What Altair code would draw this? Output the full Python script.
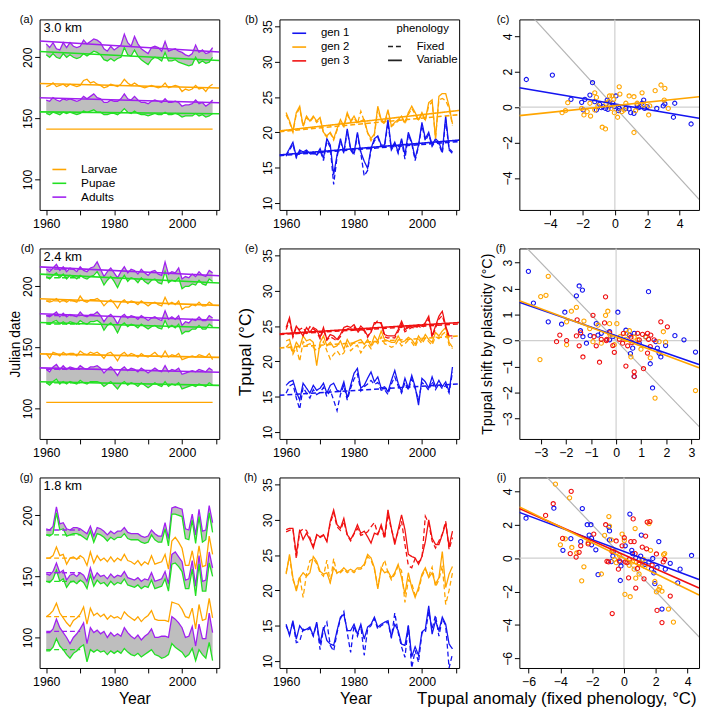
import altair as alt
import pandas as pd

FONT = "Liberation Sans"
YEARS = list(range(1960, 2010))
YR_DOMAIN = [1958.04, 2010.96]
JD_DOMAIN = [75, 231]
T_DOMAIN = [9, 36]

STAGE_DOMAIN = ["Larvae", "Pupae", "Adults"]
STAGE_RANGE = ["#FFA500", "#22E022", "#A020F0"]
STAGE_OF = {"L": "Larvae", "P": "Pupae", "A": "Adults"}
GEN_DOMAIN = ["gen 1", "gen 2", "gen 3"]
GEN_RANGE = ["#1414F0", "#FFA500", "#F01010"]

W, H = 182, 193

# ---------------- panel (a) 3.0 km : Julian dates ----------------
a_A2 = [211,208,212,207,206,212,208,212,209,208, 209,214,211,213,215,214,212,207,205,209,
        206,208,210,219,212,209,217,211,207,205, 203,208,209,208,205,213,205,206,207,205,
        204,202,201,203,210,204,206,203,204,208]
a_P2 = [202,200,203,200,199,203,200,202,200,199, 200,203,201,203,205,204,202,198,197,199,
        197,199,200,208,202,201,206,201,198,196, 194,198,200,199,197,204,197,197,198,196,
        195,194,193,194,200,195,197,195,196,200]
a_L2 = [176,177,179,176,177,178,176,178,177,176, 177,181,182,179,180,178,177,175,176,178,
        177,176,178,182,179,177,179,177,176,175, 176,177,176,175,176,179,175,176,177,176,
        172,174,173,174,177,174,175,172,176,178]
a_A1 = [165,164,167,165,164,166,165,166,165,164, 165,168,166,168,170,167,166,163,163,165,
        164,164,166,170,166,165,168,165,163,163, 162,164,165,164,163,166,163,163,164,163,
        160,161,161,162,165,162,163,160,162,165]
a_P1 = [154,153,155,154,153,155,154,155,154,153, 154,156,155,156,157,155,155,153,153,154,
        154,153,155,158,155,154,156,154,153,153, 152,153,154,153,153,155,153,153,154,153,
        151,152,152,152,154,152,153,151,152,154]
FLAT_YEARS = [1960, 2009]
a_L1 = [141.2, 141.2]
a_trend = {"A2": [213.4, 204.3], "P2": [204.8, 197.3], "L2": [178.6, 174.9],
           "A1": [166.8, 162.8], "P1": [155.3, 153.7]}

# ---------------- panel (d) 2.4 km ----------------
d_A3 = [214,212,215,218,213,216,212,215,214,212, 216,213,212,215,216,220,214,208,212,215,
        211,207,212,216,211,214,213,210,214,211, 209,212,213,210,209,220,210,212,211,215,
        206,208,207,210,208,212,209,208,213,211]
d_P3 = [208,206,209,211,207,210,206,209,208,206, 209,207,206,208,209,212,207,201,205,208,
        204,199,205,209,204,207,206,203,207,204, 202,205,206,203,202,212,203,205,204,207,
        198,200,200,202,201,205,202,201,206,204]
d_L3 = [188,187,188,190,187,189,187,189,188,187, 192,188,187,189,189,190,188,184,187,189,
        186,182,187,189,186,188,187,185,188,186, 184,186,187,185,184,191,185,187,185,188,
        181,183,183,185,184,187,184,184,187,185]
d_A2 = [176,175,177,179,175,178,175,177,176,175, 179,176,175,177,177,179,176,171,175,177,
        174,169,175,177,174,176,175,173,176,174, 172,174,175,173,172,180,173,175,173,176,
        168,171,170,173,172,175,172,172,176,174]
d_P2 = [170,169,171,172,169,171,169,171,170,169, 172,170,169,171,171,172,170,164,168,170,
        167,162,168,170,167,169,168,166,169,167, 165,167,168,166,165,172,166,168,166,169,
        161,163,163,165,165,168,165,165,169,167]
d_L2 = [145,141,146,145,143,146,144,145,145,143, 147,145,144,146,145,146,144,141,145,146,
        143,139,144,146,143,145,144,142,145,143, 142,144,146,143,142,147,142,144,143,145,
        140,141,142,143,142,144,143,142,145,140]
d_A1 = [132,130,134,136,132,135,132,134,133,132, 135,133,132,134,134,135,133,129,132,134,
        131,127,132,134,131,133,132,130,133,131, 129,131,133,131,130,135,130,132,131,133,
        128,129,130,131,130,132,131,130,133,131]
d_P1 = [121,119,122,124,120,122,120,122,121,120, 123,121,120,122,122,122,121,118,120,122,
        119,116,120,122,119,121,120,118,121,119, 117,119,121,119,118,122,118,120,119,121,
        116,117,118,119,118,120,119,118,121,119]
d_L1 = [105.0, 105.0]
d_trend = {"A3": [215.9, 208.6], "P3": [210.0, 202.7], "L3": [189.8, 184.4],
           "A2": [177.6, 172.2], "P2": [170.4, 166.0], "L2": [144.7, 141.8],
           "A1": [133.2, 129.6], "P1": [121.8, 118.9]}
FIXED_YEARS = [1960, 1970]
d_fixed = {"A3": 214, "P3": 207, "L3": 188, "A2": 176, "P2": 169, "L2": 144, "A1": 132, "P1": 121}

# ---------------- panel (g) 1.8 km ----------------
g_A3 = [189,188,191,207,193,194,189,188,190,190, 189,187,185,191,183,190,189,187,184,187,
        185,187,187,190,186,185,185,185,183,182, 183,188,185,183,183,194,181,206,207,206,
        205,189,188,201,184,205,187,188,208,194]
g_P3 = [184,183,185,202,188,189,183,184,185,185, 184,182,180,187,178,185,184,182,179,182,
        180,182,182,185,181,180,180,180,178,177, 178,184,180,178,178,189,175,201,201,200,
        199,181,180,196,177,199,178,180,202,186]
g_L3 = [165,165,167,174,167,168,160,165,166,164, 167,165,159,170,161,167,163,165,162,166,
        162,165,163,168,163,162,160,163,159,162, 160,167,160,161,162,168,156,179,182,178,
        173,159,159,171,156,175,158,159,183,168]
g_A2 = [152,151,154,161,153,155,147,151,152,150, 153,151,146,157,148,153,150,151,148,152,
        149,151,150,154,149,148,147,149,146,148, 147,153,146,147,148,154,144,168,170,166,
        162,147,148,163,142,167,146,147,170,157]
g_P2 = [146,145,148,155,146,148,141,145,146,144, 147,145,140,151,142,147,144,145,142,146,
        143,145,144,148,143,142,141,143,140,142, 141,147,140,141,142,148,138,160,161,158,
        154,140,140,156,134,160,138,138,161,150]
g_L2 = [117,119,122,128,120,116,112,109,114,116, 119,125,111,124,118,120,117,119,115,118,
        116,117,115,121,118,116,114,117,113,116, 118,122,115,114,114,114,113,129,128,127,
        123,117,116,124,107,127,114,115,132,116]
g_A1 = [104,104,107,115,108,104,100,95,100,103, 107,112,95,108,104,106,103,105,100,104,
        101,103,101,108,104,101,99,102,98,101, 103,107,100,100,101,101,100,117,115,112,
        108,100,101,109,93,111,99,99,120,104]
g_P1 = [89,89,92,99,93,90,86,83,87,89, 92,94,80,90,88,90,88,89,86,89,
        87,89,87,91,88,86,85,87,84,86, 88,90,86,85,83,84,86,95,92,90,
        88,84,86,91,81,90,86,83,96,81]
g_fixed = {"A3": 188, "P3": 184, "L3": 165, "A2": 153, "P2": 146, "L2": 117, "A1": 105, "P1": 90}

# ---------------- Tpupal series (b, e, h) ----------------
b_g1_var = [16.8,17.7,18.6,16.5,17.5,17.2,17.5,17.0,17.2,16.8, 17.7,16.3,19.1,18.2,14.0,16.8,19.1,17.2,20.5,17.7,
            17.0,20.0,17.2,15.9,14.9,17.7,19.1,19.5,18.2,18.2, 21.8,17.7,18.6,17.2,19.1,16.8,20.0,18.6,16.3,18.2,
            21.4,19.1,20.0,18.2,19.1,18.6,17.2,22.3,17.7,17.2]
b_g1_fix = [16.6,17.5,18.3,16.4,17.3,17.0,17.3,16.9,17.0,16.7, 17.5,16.0,18.8,17.9,12.6,16.5,18.8,17.0,20.2,17.5,
            16.8,19.7,17.0,13.8,14.6,17.5,18.8,19.3,18.0,18.0, 21.4,17.5,18.4,17.0,18.8,16.2,19.7,18.4,16.0,18.0,
            21.0,18.8,19.7,18.0,18.8,18.3,17.0,21.8,17.5,17.0]
b_g2_var = [22.8,21.6,20.2,22.8,23.7,20.9,22.3,21.6,22.3,21.6, 22.1,20.0,19.5,20.0,19.1,20.5,21.8,20.9,22.8,21.6,
            22.3,21.4,21.6,21.8,20.0,19.1,19.8,23.7,21.8,21.4, 23.2,20.9,21.4,21.8,22.3,21.4,22.8,23.7,22.8,21.8,
            22.8,21.8,24.2,24.6,19.1,25.1,25.5,25.5,23.7,21.2]
b_g2_fix = [22.5,21.4,20.0,22.6,23.4,20.8,22.1,21.5,22.1,21.4, 21.9,19.9,19.3,19.9,18.9,20.3,21.6,20.8,22.5,21.5,
            22.1,21.2,23.0,21.6,19.9,18.8,19.6,23.3,21.6,21.2, 22.9,20.8,21.2,21.6,22.1,21.2,22.5,23.4,22.6,21.6,
            22.6,21.6,23.8,24.3,19.2,24.6,24.8,24.5,23.4,21.0]
b_trend = {("gen 1", "Variable"): [16.8, 18.9], ("gen 1", "Fixed"): [16.7, 18.7],
           ("gen 2", "Variable"): [20.2, 23.1], ("gen 2", "Fixed"): [20.1, 22.5]}

e_g3_var = [24.8,26.2,23.6,25.0,24.3,23.6,24.8,24.1,24.8,24.5, 23.4,24.8,23.1,23.8,23.6,23.1,23.8,24.8,25.0,24.8,
            25.2,24.3,25.0,24.5,23.6,24.1,25.5,25.5,25.5,23.8, 23.6,23.6,23.6,24.5,25.7,24.5,24.8,25.0,25.0,25.2,
            25.0,25.5,26.4,23.6,25.0,26.4,27.1,25.0,23.6,23.6]
e_g3_fix = [24.5,25.8,23.4,24.8,24.5,24.8,24.0,24.9,24.6,24.2, 23.2,24.5,23.0,23.5,23.2,22.9,23.5,24.5,24.7,24.5,
            24.9,24.0,24.7,24.3,23.4,24.3,25.2,25.8,25.3,23.5, 23.3,23.4,23.3,24.2,25.3,24.2,24.5,24.8,24.7,25.0,
            24.7,25.2,26.0,23.4,24.7,26.0,26.5,24.8,23.3,23.3]
e_g2_var = [22.9,23.1,21.3,22.7,22.0,23.6,22.9,23.1,22.7,19.4, 22.7,23.6,22.2,22.7,22.0,22.2,22.9,21.7,23.1,22.2,
            22.7,22.9,23.1,22.4,23.1,22.2,23.6,22.9,24.3,23.1, 22.9,22.7,22.7,23.6,22.7,22.9,23.4,23.1,22.4,23.6,
            22.9,23.8,23.1,22.7,24.1,23.6,24.3,24.8,22.7,22.0]
e_g2_fix = [22.0,22.5,21.0,22.0,20.0,22.8,22.3,22.5,22.0,21.5, 22.0,22.8,21.5,20.3,21.0,21.5,20.8,21.2,22.3,21.5,
            22.0,22.3,21.2,22.0,22.5,21.8,23.0,22.5,23.5,22.5, 22.3,22.0,22.2,23.0,22.2,22.5,23.0,22.7,22.0,23.2,
            22.5,23.3,22.8,22.3,23.5,23.2,23.8,24.2,22.3,21.8]
e_g1_var = [16.6,17.1,17.3,15.7,14.5,16.9,16.2,15.5,16.6,15.9, 16.2,16.9,15.5,16.6,16.9,15.9,15.7,17.1,14.8,16.6,
            18.3,19.0,16.2,16.6,17.6,18.5,17.1,17.8,16.2,16.4, 15.7,17.3,18.7,16.9,15.7,17.6,16.2,18.0,16.4,13.8,
            17.6,17.1,16.2,17.8,16.4,17.3,16.4,17.1,15.7,19.2]
e_g1_fix = [15.5,16.5,16.8,14.8,13.2,16.3,15.5,14.8,16.0,15.3, 15.6,16.3,15.0,15.9,14.5,13.0,15.3,16.6,14.5,16.2,
            17.5,18.2,15.8,16.4,16.8,17.3,16.7,17.0,15.9,16.0, 15.3,16.8,17.8,16.5,15.5,17.0,15.9,17.5,16.2,14.5,
            17.0,16.6,15.9,17.2,16.0,16.8,16.1,16.6,15.5,18.5]
e_trend = {("gen 3", "Variable"): [23.9, 25.5], ("gen 3", "Fixed"): [23.8, 25.3],
           ("gen 2", "Fixed"): [21.9, 23.6], ("gen 1", "Fixed"): [15.2, 16.8]}

h_g3_var = [28.6,28.8,28.8,25.1,28.6,27.2,28.1,27.2,26.0,27.9, 27.6,27.9,26.9,29.8,31.4,29.3,28.8,30.2,27.9,27.2,
            28.1,29.3,28.1,28.4,27.6,26.7,28.1,27.9,29.3,27.6, 31.4,28.8,26.5,28.6,30.7,28.6,25.1,24.8,24.6,23.7,
            24.8,26.9,30.0,27.4,26.5,26.5,27.9,29.5,26.2,28.4]
h_g3_fix = [28.3,28.5,28.7,24.5,28.3,28.7,28.5,27.5,26.3,27.7, 27.5,27.8,27.0,29.5,31.0,29.0,28.5,29.8,27.8,27.0,
            28.0,28.8,27.8,28.0,28.3,29.0,29.6,28.0,29.0,27.3, 30.8,28.6,27.0,28.3,29.8,26.5,23.5,23.2,24.5,24.0,
            24.5,30.5,29.5,27.0,26.0,27.0,28.0,29.8,25.8,27.5]
h_g2_var = [22.3,25.1,21.8,19.9,21.8,22.5,22.0,22.5,24.8,24.1, 22.7,22.3,22.5,21.1,23.2,22.5,22.7,23.2,22.7,23.0,
            22.7,23.2,23.2,23.7,25.1,24.6,23.2,20.2,23.2,22.5, 22.7,21.8,22.5,23.7,21.8,19.5,22.5,20.4,19.0,20.4,
            22.3,23.2,21.8,22.5,20.9,21.8,25.5,20.4,22.3,23.4]
h_g2_fix = [22.5,24.8,21.5,20.3,22.0,19.0,22.3,24.2,24.5,23.8, 22.5,22.0,24.3,21.0,24.5,22.3,22.5,23.0,22.5,22.8,
            22.5,23.0,23.0,23.5,24.8,24.3,23.0,20.5,23.0,24.3, 22.5,21.5,22.3,23.5,22.8,18.3,21.5,21.0,19.3,20.0,
            22.0,23.0,22.0,23.3,20.5,21.5,23.5,18.0,20.0,22.5]
h_g1_var = [15.2,13.6,15.7,13.1,15.0,14.3,14.5,14.8,13.6,15.5, 12.4,14.8,12.9,12.4,12.2,14.3,16.2,16.6,14.3,14.3,
            15.2,13.8,15.2,13.1,14.8,15.2,16.2,14.8,15.2,15.5, 15.7,13.4,15.2,14.3,12.4,12.2,15.0,10.6,12.0,10.8,
            14.1,14.5,17.8,13.8,15.7,14.3,16.2,15.2,12.4,11.7]
h_g1_fix = [15.0,13.8,15.5,12.6,12.8,14.5,14.3,14.6,13.5,15.3, 11.6,14.5,15.5,12.2,11.4,14.0,16.0,17.0,14.0,11.2,
            15.0,13.5,15.0,10.8,14.5,15.0,16.0,14.5,15.0,15.3, 15.5,13.2,16.8,14.0,12.0,10.5,15.0,9.0,11.5,9.8,
            14.0,14.0,17.0,14.5,16.5,13.5,16.0,15.0,9.0,11.0]

# ---------------- scatter panels (c, f, i) ----------------
c_blue_x = [-5.47,-3.86,-2.71,-2.05,-1.85,-1.54,-1.38,-1.24,-1.14,-0.94, -0.74,-0.58,-0.47,-0.33,-0.13,0.07,0.23,0.47,0.68,0.88,
            1.18,1.38,1.68,1.78,1.84,1.99,2.59,2.99,3.09,3.62, 3.70,4.71,-1.95,-0.43,-0.03,0.98,1.48,0.27,-0.84]
c_blue_y = [1.56,1.81,0.44,0.27,0.44,0.68,1.38,0.31,-0.16,0.16, 0.03,-0.07,0.40,0.07,0.22,0.63,-0.20,0.03,-0.07,-0.10,
            -0.35,0.12,0.22,0.40,-0.07,0.03,-0.07,0.07,0.18,-0.57, 0.22,-0.95,-0.16,-0.12,0.03,-0.31,-0.03,-0.07,-0.03]
c_orange_x = [-3.26,-3.05,-2.91,-2.05,-1.91,-1.71,-1.50,-1.54,-1.24,-1.14, -1.04,-0.78,-0.58,-0.33,-0.17,-0.07,-0.03,0.17,0.27,0.31,
              0.57,0.68,0.88,1.18,1.18,1.28,1.68,2.09,2.15,2.49, 2.85,3.09,3.05,3.30,-0.54,-0.37,-0.23,0.43,1.38,1.78, -1.24]
c_orange_y = [-0.31,-0.20,0.25,-0.07,-0.44,-0.25,-0.50,0.22,0.81,0.55, 0.07,-1.13,-1.23,0.63,0.63,0.44,-0.31,-0.57,1.15,0.74,
              -0.16,0.22,0.63,0.59,-1.43,-0.20,0.81,-0.44,0.07,0.93, 1.25,1.06,0.40,-0.07,0.22,0.31,-0.07,-0.25,0.22,0.12, -0.16]
C_XDOM, C_YDOM = [-5.9, 5.2], [-5.8, 4.95]
c_fit = {"gen 1": [1.10, -0.63], "gen 2": [-0.48, 0.59]}

f_blue_x = [-3.49,-3.29,-2.70,-2.17,-2.04,-1.58,-1.47,-1.34,-1.42,-1.32, -1.18,-1.03,-0.79,-0.72,-0.59,-0.26,0.07,0.39,0.53,0.57,
            0.66,0.72,0.72,0.92,1.29,1.36,1.45,1.58,1.64,1.71, 1.78,1.97,2.34,2.70,3.16,-0.26,-0.13,1.18]
f_blue_y = [2.66,1.44,0.72,0.63,1.09,1.72,2.10,1.94,0.38,0.15, -0.10,0.19,0.65,0.21,0.28,0.34,1.09,0.40,0.21,-0.50,
            -0.29,0.28,-1.38,-0.10,1.88,-0.89,-1.82,-0.04,-0.29,-0.48, -0.63,-0.19,0.19,0.03,-0.44,0.03,0.15,0.15]
f_orange_x = [-3.03,-2.70,-3.00,-2.79,-1.97,-1.97,-1.78,-1.58,-1.28,-1.05, -0.92,-0.72,-0.59,-0.42,-0.33,-0.26,-0.24,-0.07,0.03,0.16,
              0.42,0.53,0.59,0.72,0.99,1.18,1.36,1.55,1.71,1.88, 1.97,3.16,0.39,0.86]
f_orange_y = [-0.73,2.47,1.69,1.74,0.72,-0.16,1.13,1.28,0.75,0.46, -0.04,0.59,-0.10,0.97,1.13,0.65,0.21,-0.16,0.65,0.15,
              0.28,0.38,-0.63,0.13,-0.33,0.13,-0.66,-2.21,-0.04,0.34, -0.06,-1.92,0.05,0.03]
f_red_x = [-2.37,-2.24,-1.97,-1.58,-1.55,-1.47,-1.41,-1.32,-0.92,-0.88, -0.79,-0.66,-0.59,-0.46,-0.42,-0.39,-0.37,-0.26,-0.13,-0.07,
           0.13,0.29,0.39,0.46,0.59,0.63,0.72,0.72,0.86,1.05, 1.09,1.25,1.29,1.36,1.38,1.78,2.04,1.25,1.51,0.92, 0.26]
f_red_y = [-0.04,0.21,0.00,0.18,0.80,-0.20,0.30,-0.63,0.97,0.15, -0.20,-0.83,0.05,0.68,1.68,0.00,0.05,0.30,-0.19,-0.45,
           0.05,0.28,-0.98,-0.20,0.13,-0.08,-1.20,-1.38,0.28,0.24, -1.08,0.28,0.05,-0.23,0.21,0.72,0.53,-0.48,0.03,0.03, -0.10]
F_XDOM, F_YDOM = [-3.85, 3.3], [-3.78, 3.54]
f_fit = {"gen 1": [1.47, -0.92], "gen 2": [1.53, -1.04]}

i_blue_x = [-6.16,-4.41,-3.84,-3.34,-2.72,-2.62,-2.31,-2.08,-2.19,-2.04, -2.04,-1.77,-1.63,-0.95,-0.91,-0.91,-0.80,-0.70,-0.66,-0.23,
            -0.23,0.08,0.37,0.49,0.74,1.05,1.09,1.15,1.32,1.57, 1.73,1.81,1.88,1.94,2.08,2.19,2.39,2.60,2.91,3.53, 3.38,4.25,-0.19,0.54]
i_blue_y = [2.39,2.99,0.47,1.17,0.99,2.97,2.00,2.00,1.38,1.18, 0.80,0.50,-0.99,1.86,1.63,1.09,-0.21,0.12,0.41,-1.34,
            -0.23,0.74,2.64,0.47,0.02,0.12,1.38,-0.08,-0.37,-0.23, -0.66,-0.02,-0.89,-1.53,-0.56,0.99,-3.05,-0.66,-0.31,-0.66, -1.48,0.16,-0.47,0.27]
i_orange_x = [-4.31,-4.00,-3.42,-3.69,-3.28,-2.97,-2.66,-2.52,-2.25,-1.42, -1.22,-0.95,-0.91,-0.80,-0.74,-0.60,-0.29,-0.12,0.02,0.06,
              0.33,0.39,0.54,0.64,0.70,0.74,0.95,1.22,1.32,1.67, 1.94,2.04,2.19,2.25,2.39,2.49,2.56,2.80,3.11,1.57, -0.49,0.95]
i_orange_y = [4.43,0.80,3.61,1.15,0.64,0.31,-1.36,-0.52,0.93,-0.95, 1.36,2.49,1.92,1.09,0.56,-0.08,0.17,1.44,1.05,-2.17,
              -0.43,-2.31,-0.23,-0.66,1.77,-1.20,-0.95,-0.08,-0.50,0.47, -1.40,-2.02,-1.88,-1.73,-1.98,0.21,0.27,-3.05,-3.83,2.06, -0.27,-0.27]
i_red_x = [-4.93,-4.45,-3.32,-3.86,-3.38,-3.01,-2.82,-2.72,-2.25,-1.90, -1.15,-1.07,-0.97,-0.76,-0.74,-0.49,-0.35,-0.12,0.02,0.08,
           0.19,0.29,0.43,0.58,0.64,0.70,0.74,0.85,0.95,1.15, 1.26,1.36,1.42,1.46,1.63,1.77,2.04,2.08,2.39,2.47, 2.56,2.91,-0.29,0.33]
i_red_y = [2.56,3.26,4.00,1.18,0.27,0.06,0.35,0.74,0.85,1.44, 2.00,-0.19,-0.23,0.41,-3.32,1.03,-0.66,0.74,1.22,-0.23,
           -0.27,-1.18,0.99,2.35,0.99,0.27,-1.79,-0.62,-0.37,0.66, -1.24,1.32,0.56,2.16,2.19,-0.41,0.25,-3.13,-3.86,-0.23, -0.08,-2.27,-0.17,-0.08]
I_XDOM, I_YDOM = [-6.58, 4.72], [-6.58, 4.83]
i_fit = {"gen 1": [2.74, -1.28], "gen 3": [2.97, -1.79], "gen 2": [3.07, -2.21]}

DIAG_X = [-20, 20]
DIAG_Y = [20, -20]
ZERO = [0]


# ---------------- helpers ----------------
def x_year_axis(title=None, title_x=None):
    kw = dict(values=[1960, 1970, 1980, 1990, 2000, 2010], format="d",
              labelExpr="datum.value % 20 == 0 ? datum.label : ''", labelFlush=False)
    if title:
        kw.update(title=title, titleX=title_x, titleY=23, titleBaseline="top",
                  titleAlign="center", titleFontSize=16)
    else:
        kw["title"] = None
    return alt.Axis(**kw)


def y_axis(values, title=None, title_x=None, title_size=14, title_y=None):
    kw = dict(values=values, labelAngle=-90, labelAlign="center", labelBaseline="alphabetic",
              labelFlush=False, labelOverlap=False)
    if title:
        kw.update(title=title, titleX=title_x, titleFontSize=title_size, titleBaseline="alphabetic")
        if title_y is not None:
            kw["titleY"] = title_y
    else:
        kw["title"] = None
    return alt.Axis(**kw)


def panel_title(txt, dx):
    return alt.TitleParams(txt, anchor="start", frame="group", dx=dx, dy=6, offset=0,
                           fontSize=11, fontWeight="normal", font=FONT, color="black")


def km_label(txt):
    return alt.Chart(pd.DataFrame({"t": [txt]})).mark_text(
        align="left", baseline="top", fontSize=13, font=FONT, color="black"
    ).encode(x=alt.value(4), y=alt.value(3), text="t:N")


def stage_panel(series, flat, trends, fixed, label, dx, km, legend=False,
                ytitle=None, xtitle=None, xtitle_x=None):
    rows = []
    for key, vals in series.items():
        for yr, v in zip(YEARS, vals):
            rows.append(dict(year=yr, value=v, stage=STAGE_OF[key[0]], sid=key))
    for key, vals in flat.items():
        for yr, v in zip(FLAT_YEARS, vals):
            rows.append(dict(year=yr, value=v, stage=STAGE_OF[key[0]], sid=key))
    df = pd.DataFrame(rows)

    arows = []
    for key, vals in series.items():
        if key[0] == "P" and ("A" + key[1]) in series:
            for yr, lo, hi in zip(YEARS, vals, series["A" + key[1]]):
                arows.append(dict(year=yr, lo=lo, hi=hi, gen=key[1]))
    adf = pd.DataFrame(arows)

    trows = []
    for key, (v0, v1) in trends.items():
        trows.append(dict(year=YR_DOMAIN[0], value=v0, stage=STAGE_OF[key[0]], sid=key))
        trows.append(dict(year=YR_DOMAIN[1], value=v1, stage=STAGE_OF[key[0]], sid=key))
    frows = []
    for key, lev in fixed.items():
        for yr in FIXED_YEARS:
            frows.append(dict(year=yr, value=lev, stage=STAGE_OF[key[0]], sid=key))

    xscale = alt.Scale(domain=YR_DOMAIN, nice=False, zero=False)
    yscale = alt.Scale(domain=JD_DOMAIN, nice=False, zero=False)
    xaxis = x_year_axis(xtitle, xtitle_x)
    yaxis = y_axis([100, 150, 200], ytitle, -20, 14)
    x = alt.X("year:Q", scale=xscale, axis=xaxis)
    y = alt.Y("value:Q", scale=yscale, axis=yaxis)
    leg = None
    if legend:
        leg = alt.Legend(title=None, orient="none", legendX=12, legendY=144,
                         symbolType="stroke", symbolSize=196, symbolStrokeWidth=1.6,
                         labelFontSize=12, labelFont=FONT, labelOffset=14,
                         rowPadding=0, padding=0)
    col = alt.Color("stage:N", scale=alt.Scale(domain=STAGE_DOMAIN, range=STAGE_RANGE), legend=leg)

    layers = [
        alt.Chart(adf).mark_area(color="#BEBEBE", opacity=1, clip=True).encode(
            x=x, y=alt.Y("lo:Q", scale=yscale, axis=yaxis), y2="hi:Q", detail="gen:N"),
        alt.Chart(df).mark_line(strokeWidth=1.3, clip=True).encode(x=x, y=y, color=col, detail="sid:N"),
    ]
    if trows:
        layers.append(alt.Chart(pd.DataFrame(trows)).mark_line(strokeWidth=1.6, clip=True).encode(
            x=x, y=y, color=col, detail="sid:N"))
    if frows:
        layers.append(alt.Chart(pd.DataFrame(frows)).mark_line(strokeWidth=1.3, strokeDash=[5, 3], clip=True).encode(
            x=x, y=y, color=col, detail="sid:N"))
    layers.append(km_label(km))
    return alt.layer(*layers).properties(width=W, height=H, title=panel_title(label, dx))


def temp_panel(series, trends, label, dx, legend=False, ytitle=None, xtitle=None, xtitle_x=None):
    rows = []
    for (gen, ph), vals in series.items():
        for yr, v in zip(YEARS, vals):
            rows.append(dict(year=yr, value=v, gen=gen, pheno=ph, sid=gen + ph))
    df = pd.DataFrame(rows)
    trows = []
    for (gen, ph), (v0, v1) in trends.items():
        trows.append(dict(year=YR_DOMAIN[0], value=v0, gen=gen, pheno=ph, sid=gen + ph))
        trows.append(dict(year=YR_DOMAIN[1], value=v1, gen=gen, pheno=ph, sid=gen + ph))

    x = alt.X("year:Q", scale=alt.Scale(domain=YR_DOMAIN, nice=False, zero=False),
              axis=x_year_axis(xtitle, xtitle_x))
    y = alt.Y("value:Q", scale=alt.Scale(domain=T_DOMAIN, nice=False, zero=False),
              axis=y_axis([10, 15, 20, 25, 30, 35], ytitle, -29, 17.5, H / 2 + 8))
    gleg = None
    pleg = None
    if legend:
        gleg = alt.Legend(title=None, orient="none", legendX=12, legendY=6,
                          symbolType="stroke", symbolSize=196, symbolStrokeWidth=1.6,
                          labelFontSize=11.5, labelFont=FONT, labelOffset=14,
                          rowPadding=0, padding=0)
        pleg = alt.Legend(title="phenology", orient="none", legendX=109, legendY=4,
                          symbolType="stroke", symbolSize=196, symbolStrokeWidth=1.6,
                          symbolStrokeColor="#222222",
                          labelFontSize=11.5, labelFont=FONT, labelOffset=14,
                          titleFontSize=11.5, titleFont=FONT, titleFontWeight="normal",
                          titleAnchor="middle", titlePadding=4, rowPadding=0, padding=0)
    col = alt.Color("gen:N", scale=alt.Scale(domain=GEN_DOMAIN, range=GEN_RANGE), legend=gleg)
    dash = alt.StrokeDash("pheno:N", scale=alt.Scale(domain=["Fixed", "Variable"], range=[[5, 3], [1, 0]]),
                          legend=pleg)
    layers = [
        alt.Chart(df).mark_line(strokeWidth=1.3, clip=True).encode(
            x=x, y=y, color=col, strokeDash=dash, detail="sid:N"),
    ]
    if trows:
        layers.append(alt.Chart(pd.DataFrame(trows)).mark_line(strokeWidth=1.6, clip=True).encode(
            x=x, y=y, color=col, strokeDash=dash, detail="sid:N"))
    return alt.layer(*layers).properties(width=W, height=H, title=panel_title(label, dx))


def scatter_panel(points, fits, xdom, ydom, xticks, yticks, label, dx,
                  ytitle=None, xtitle=None):
    rows = []
    for gen, (xs, ys) in points.items():
        for a, b in zip(xs, ys):
            rows.append(dict(px=a, py=b, gen=gen))
    pdf = pd.DataFrame(rows)
    frows = []
    for gen, (y0, y1) in fits.items():
        frows.append(dict(px=xdom[0], py=y0, gen=gen))
        frows.append(dict(px=xdom[1], py=y1, gen=gen))
    fdf = pd.DataFrame(frows)

    xaxis_kw = dict(values=xticks, labelFlush=False, labelOverlap=False)
    if xtitle:
        xaxis_kw.update(title=xtitle, titleX=W - 3, titleY=23, titleBaseline="top",
                        titleAlign="right", titleFontSize=17)
    else:
        xaxis_kw["title"] = None
    xscale = alt.Scale(domain=xdom, nice=False, zero=False)
    yscale = alt.Scale(domain=ydom, nice=False, zero=False)
    xaxis = alt.Axis(**xaxis_kw)
    yaxis = y_axis(yticks, ytitle, -28, 14.5)
    x = alt.X("px:Q", scale=xscale, axis=xaxis)
    y = alt.Y("py:Q", scale=yscale, axis=yaxis)
    col = alt.Color("gen:N", scale=alt.Scale(domain=GEN_DOMAIN, range=GEN_RANGE), legend=None)

    zdf = pd.DataFrame({"z": ZERO})
    ddf = pd.DataFrame({"px": DIAG_X, "py": DIAG_Y})
    layers = [
        alt.Chart(pdf).mark_point(shape="circle", filled=False, size=0, opacity=0).encode(x=x, y=y),
        alt.Chart(zdf).mark_rule(color="#CFCFCF", strokeWidth=1.2).encode(
            x=alt.X("z:Q", scale=xscale, axis=xaxis)),
        alt.Chart(zdf).mark_rule(color="#CFCFCF", strokeWidth=1.2).encode(
            y=alt.Y("z:Q", scale=yscale, axis=yaxis)),
        alt.Chart(ddf).mark_line(color="#B4B4B4", strokeWidth=1.2, clip=True).encode(x=x, y=y),
        alt.Chart(pdf).mark_point(shape="circle", filled=False, size=18, strokeWidth=1.1,
                                  opacity=1, clip=True).encode(x=x, y=y, color=col),
        alt.Chart(fdf).mark_line(strokeWidth=1.6, clip=True).encode(x=x, y=y, color=col, detail="gen:N"),
    ]
    return alt.layer(*layers).properties(width=W, height=H, title=panel_title(label, dx))


# ---------------- build panels ----------------
pa = stage_panel({"A2": a_A2, "P2": a_P2, "L2": a_L2, "A1": a_A1, "P1": a_P1},
                 {"L1": a_L1}, a_trend, {}, "(a)", -20, "3.0 km", legend=True)
pd_ = stage_panel({"A3": d_A3, "P3": d_P3, "L3": d_L3, "A2": d_A2, "P2": d_P2, "L2": d_L2,
                   "A1": d_A1, "P1": d_P1},
                  {"L1": d_L1}, d_trend, d_fixed, "(d)", -19, "2.4 km", ytitle="Julian date")
pg = stage_panel({"A3": g_A3, "P3": g_P3, "L3": g_L3, "A2": g_A2, "P2": g_P2, "L2": g_L2,
                  "A1": g_A1, "P1": g_P1},
                 {}, {}, g_fixed, "(g)", -20, "1.8 km", xtitle="Year", xtitle_x=96)

pb = temp_panel({("gen 1", "Fixed"): b_g1_fix, ("gen 1", "Variable"): b_g1_var,
                 ("gen 2", "Fixed"): b_g2_fix, ("gen 2", "Variable"): b_g2_var},
                b_trend, "(b)", -35, legend=True)
pe = temp_panel({("gen 1", "Fixed"): e_g1_fix, ("gen 1", "Variable"): e_g1_var,
                 ("gen 2", "Fixed"): e_g2_fix, ("gen 2", "Variable"): e_g2_var,
                 ("gen 3", "Fixed"): e_g3_fix, ("gen 3", "Variable"): e_g3_var},
                e_trend, "(e)", -35, ytitle="Tpupal (°C)")
ph = temp_panel({("gen 1", "Fixed"): h_g1_fix, ("gen 1", "Variable"): h_g1_var,
                 ("gen 2", "Fixed"): h_g2_fix, ("gen 2", "Variable"): h_g2_var,
                 ("gen 3", "Fixed"): h_g3_fix, ("gen 3", "Variable"): h_g3_var},
                {}, "(h)", -36, xtitle="Year", xtitle_x=77)

pc = scatter_panel({"gen 1": (c_blue_x, c_blue_y), "gen 2": (c_orange_x, c_orange_y)},
                   c_fit, C_XDOM, C_YDOM, [-4, -2, 0, 2, 4], [-4, -2, 0, 2, 4], "(c)", -23)
pf = scatter_panel({"gen 1": (f_blue_x, f_blue_y), "gen 2": (f_orange_x, f_orange_y),
                    "gen 3": (f_red_x, f_red_y)},
                   f_fit, F_XDOM, F_YDOM, [-3, -2, -1, 0, 1, 2, 3], [-3, -2, -1, 0, 1, 2, 3], "(f)", -24,
                   ytitle="Tpupal shift by plasticity (°C)")
pi = scatter_panel({"gen 1": (i_blue_x, i_blue_y), "gen 2": (i_orange_x, i_orange_y),
                    "gen 3": (i_red_x, i_red_y)},
                   i_fit, I_XDOM, I_YDOM, [-6, -4, -2, 0, 2, 4], [-6, -4, -2, 0, 2, 4], "(i)", -23,
                   xtitle="Tpupal anomaly (fixed phenology, °C)")

chart = alt.concat(
    pa, pb, pc, pd_, pe, pf, pg, ph, pi,
    columns=3, spacing={"row": 39, "column": 61}, bounds="flush"
).resolve_scale(
    color="independent", strokeDash="independent"
).properties(padding=0, background="white").configure_view(
    stroke="black", strokeWidth=1
).configure_axis(
    domain=False, grid=False, tickColor="black", tickSize=5, tickWidth=1,
    labelFont=FONT, labelFontSize=12.5, labelColor="black", labelPadding=3,
    titleFont=FONT, titleColor="black", titleFontWeight="normal"
).configure_legend(
    labelFont=FONT, titleFont=FONT, labelColor="black", titleColor="black"
)

chart.save("out.html", embed_options={"renderer": "svg", "actions": False})
